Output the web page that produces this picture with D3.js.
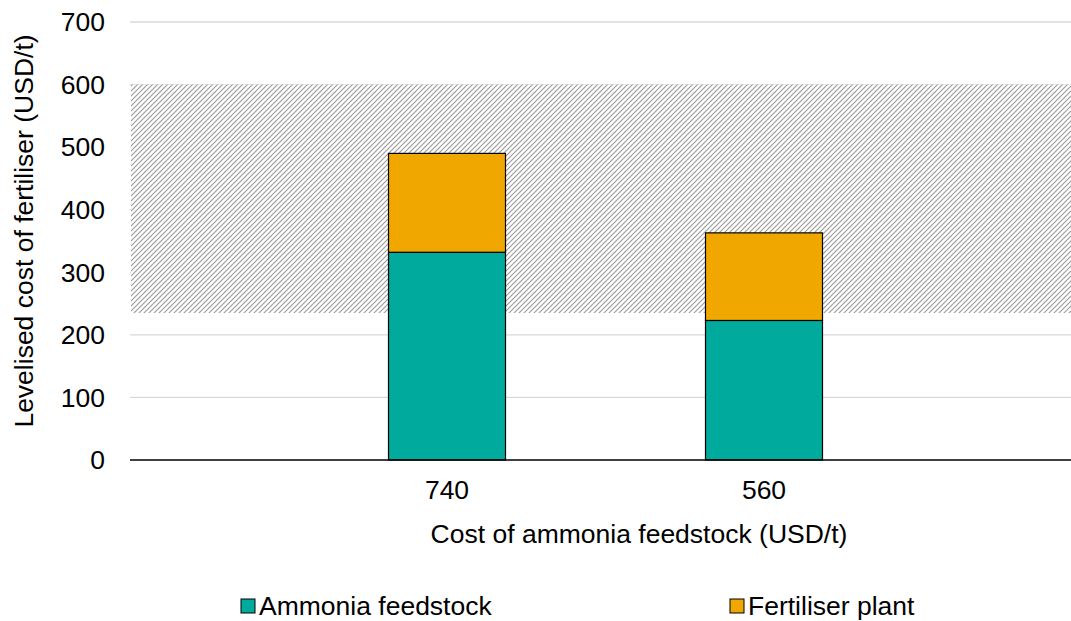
<!DOCTYPE html>
<html>
<head>
<meta charset="utf-8">
<script src="https://cdn.jsdelivr.net/npm/d3@7"></script>
<style>
  body { margin: 0; background: #fff; }
  text { font-family: "Liberation Sans", Arial, sans-serif; fill: #000; }
</style>
</head>
<body>
<div id="chart"></div>
<script>
// data
const categories = ['740', '560']
const ammoniaFeedstock = [332, 223]
const fertiliserPlant = [158, 140]
const seriesNames = ['Ammonia feedstock', 'Fertiliser plant']
const seriesColors = ['#00aa9c', '#f0a800']
const rangeBand = [235, 600]
const yTicks = [0, 100, 200, 300, 400, 500, 600, 700]

const W = 1071, H = 621
const margin = { top: 22, right: -10, bottom: 161, left: 130 }
const width = W - margin.left - margin.right
const height = H - margin.top - margin.bottom
const fontSize = '26.5px'

const svg = d3.select('#chart').append('svg')
  .attr('width', W).attr('height', H)

// hatch pattern
const defs = svg.append('defs')
const pat = defs.append('pattern')
  .attr('id', 'hatch')
  .attr('patternUnits', 'userSpaceOnUse')
  .attr('width', 5).attr('height', 5)
pat.append('rect').attr('width', 5).attr('height', 5).attr('fill', '#fff')
pat.append('path')
  .attr('d', 'M-1,6 L6,-1 M-1,1 L1,-1 M4,6 L6,4')
  .attr('stroke', '#9a9a9a')
  .attr('stroke-width', 1.1)

const g = svg.append('g').attr('transform', `translate(${margin.left},${margin.top})`)

const y = d3.scaleLinear().domain([0, 700]).range([height, 0])
const x = d3.scalePoint().domain(categories).range([0, width]).padding(1)
const barW = 117

// gridlines
g.selectAll('.grid').data(yTicks.filter(d => d > 0)).join('line')
  .attr('x1', 0).attr('x2', width)
  .attr('y1', d => y(d)).attr('y2', d => y(d))
  .attr('stroke', '#d9d9d9').attr('stroke-width', 1.3)

// shaded range
g.append('rect')
  .attr('x', 1).attr('width', width)
  .attr('y', y(rangeBand[1])).attr('height', y(rangeBand[0]) - y(rangeBand[1]))
  .attr('fill', 'url(#hatch)')

// stacked bars
const rows = categories.map((c, i) => ({ cat: c, a: ammoniaFeedstock[i], f: fertiliserPlant[i] }))
const stack = d3.stack().keys(['a', 'f'])(rows)
g.selectAll('.series').data(stack).join('g')
  .attr('fill', (d, i) => seriesColors[i])
  .selectAll('rect').data(d => d).join('rect')
  .attr('x', d => x(d.data.cat) - barW / 2)
  .attr('width', barW)
  .attr('y', d => y(d[1]))
  .attr('height', d => y(d[0]) - y(d[1]))
  .attr('stroke', '#000').attr('stroke-width', 1.2)

// x axis line
g.append('line')
  .attr('x1', 0).attr('x2', width)
  .attr('y1', height).attr('y2', height)
  .attr('stroke', '#000').attr('stroke-width', 1.5)

// y tick labels
g.selectAll('.ylab').data(yTicks).join('text')
  .attr('x', -25).attr('y', d => y(d))
  .attr('dy', '0.35em')
  .attr('text-anchor', 'end')
  .style('font-size', fontSize)
  .text(d => d)

// x tick labels
g.selectAll('.xlab').data(categories).join('text')
  .attr('x', d => x(d)).attr('y', height + 39)
  .attr('text-anchor', 'middle')
  .style('font-size', fontSize)
  .text(d => d)

// axis titles
svg.append('text')
  .attr('transform', 'translate(33,231) rotate(-90)')
  .attr('text-anchor', 'middle')
  .style('font-size', fontSize)
  .text('Levelised cost of fertiliser (USD/t)')

svg.append('text')
  .attr('x', 639).attr('y', 543)
  .attr('text-anchor', 'middle')
  .style('font-size', fontSize)
  .text('Cost of ammonia feedstock (USD/t)')

// legend
const legendX = [241, 730]
const legend = svg.selectAll('.legend').data(seriesNames).join('g')
  .attr('transform', (d, i) => `translate(${legendX[i]},599)`)
legend.append('rect')
  .attr('width', 14).attr('height', 14)
  .attr('fill', (d, i) => seriesColors[i])
  .attr('stroke', '#000').attr('stroke-width', 1)
legend.append('text')
  .attr('x', 18).attr('y', 7).attr('dy', '0.35em')
  .style('font-size', fontSize)
  .text(d => d)
</script>
</body>
</html>
